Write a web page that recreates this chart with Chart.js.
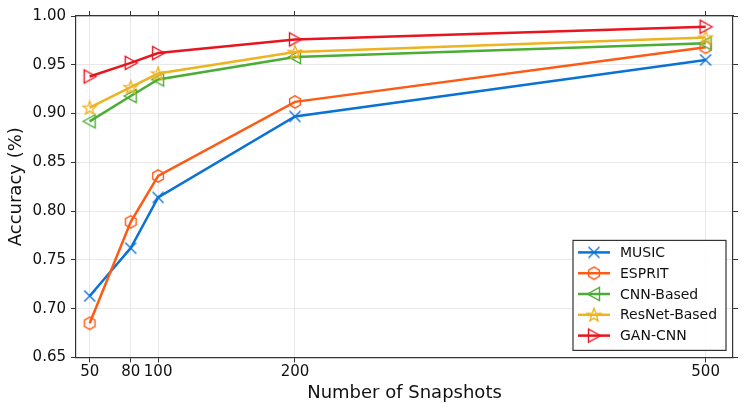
<!DOCTYPE html>
<html>
<head>
<meta charset="utf-8">
<script src="https://cdn.jsdelivr.net/npm/chart.js@4.4.1/dist/chart.umd.min.js"></script>
<style>
  body { margin: 0; background: #fff; }
</style>
</head>
<body>
<canvas id="myChart" width="748" height="413"></canvas>
<script>
// data
const snapshots = [50, 80, 100, 200, 500];
const xTicks = [50, 80, 100, 200, 500];
const yTicks = [0.65, 0.70, 0.75, 0.80, 0.85, 0.90, 0.95, 1.00];
const seriesNames = ['MUSIC', 'ESPRIT', 'CNN-Based', 'ResNet-Based', 'GAN-CNN'];
const music  = [0.713, 0.762, 0.814, 0.897, 0.955];
const esprit = [0.685, 0.789, 0.836, 0.912, 0.968];
const cnn    = [0.892, 0.918, 0.935, 0.958, 0.972];
const resnet = [0.906, 0.927, 0.941, 0.963, 0.978];
const gancnn = [0.938, 0.952, 0.962, 0.976, 0.989];

const colors  = ['#0a72d4', '#ff5a14', '#4aad34', '#eeb321', '#e8141e'];
const markers = ['cross', 'hex', 'triLeft', 'star', 'triRight'];

const FONT = "'DejaVu Sans', sans-serif";

// hollow marker drawn on a small canvas
function makeMarker(kind, color) {
  const s = 18, c = s / 2;
  const cv = document.createElement('canvas');
  cv.width = s; cv.height = s;
  const g = cv.getContext('2d');
  g.strokeStyle = color;
  g.lineWidth = 1.4;
  g.lineJoin = 'miter';
  g.beginPath();
  if (kind === 'cross') {
    const r = 5.5;
    g.moveTo(c - r, c - r); g.lineTo(c + r, c + r);
    g.moveTo(c - r, c + r); g.lineTo(c + r, c - r);
  } else if (kind === 'hex') {
    const r = 6.2;
    for (let i = 0; i < 6; i++) {
      const a = -Math.PI / 2 + i * Math.PI / 3;
      const px = c + r * Math.cos(a), py = c + r * Math.sin(a);
      if (i === 0) g.moveTo(px, py); else g.lineTo(px, py);
    }
    g.closePath();
  } else if (kind === 'triLeft') {
    g.moveTo(c - 6.5, c); g.lineTo(c + 5.5, c - 6.5); g.lineTo(c + 5.5, c + 6.5);
    g.closePath();
  } else if (kind === 'triRight') {
    g.moveTo(c + 6.5, c); g.lineTo(c - 5.5, c - 6.5); g.lineTo(c - 5.5, c + 6.5);
    g.closePath();
  } else if (kind === 'star') {
    const ro = 7, ri = 2.9;
    for (let i = 0; i < 10; i++) {
      const r = i % 2 ? ri : ro;
      const a = -Math.PI / 2 + i * Math.PI / 5;
      const px = c + r * Math.cos(a), py = c + 0.5 + r * Math.sin(a);
      if (i === 0) g.moveTo(px, py); else g.lineTo(px, py);
    }
    g.closePath();
  }
  g.stroke();
  return cv;
}

const allSeries = [music, esprit, cnn, resnet, gancnn];
const markerImgs = markers.map((m, i) => makeMarker(m, colors[i]));

const datasets = allSeries.map((vals, i) => ({
  label: seriesNames[i],
  data: snapshots.map((x, j) => ({ x: x, y: vals[j] })),
  borderColor: colors[i],
  borderWidth: 2.5,
  pointStyle: markerImgs[i],
  pointRadius: 7,
  order: allSeries.length - i,
  tension: 0
}));

// legend box inside the plot, lower right
const boxLegend = {
  id: 'boxLegend',
  afterDraw(chart) {
    const ctx = chart.ctx, a = chart.chartArea;
    const w = 153, h = 110;
    const x0 = a.right - 7 - w, y0 = a.bottom - 7 - h;
    ctx.save();
    ctx.fillStyle = 'rgba(255,255,255,0.9)';
    ctx.fillRect(x0, y0, w, h);
    ctx.strokeStyle = '#333';
    ctx.lineWidth = 1.2;
    ctx.strokeRect(x0, y0, w, h);
    ctx.font = '14px ' + FONT;
    ctx.textBaseline = 'middle';
    seriesNames.forEach((name, i) => {
      const y = y0 + 12 + i * 20.8;
      ctx.strokeStyle = colors[i];
      ctx.lineWidth = 2.5;
      ctx.beginPath();
      ctx.moveTo(x0 + 5, y); ctx.lineTo(x0 + 37, y);
      ctx.stroke();
      const img = markerImgs[i];
      ctx.drawImage(img, x0 + 21 - img.width / 2, y - img.height / 2);
      ctx.fillStyle = '#111';
      ctx.fillText(name, x0 + 47, y + 1);
    });
    ctx.restore();
  }
};

const setTicks = vals => scale => { scale.ticks = vals.map(v => ({ value: v })); };

const gridCol = '#e8e8e8';
const edge = { display: true, color: '#333', width: 1.2 };

new Chart(document.getElementById('myChart'), {
  type: 'line',
  data: { datasets: datasets },
  options: {
    responsive: false,
    animation: false,
    layout: { padding: { left: 2, right: 10, top: 11, bottom: 4 } },
    plugins: { legend: { display: false }, tooltip: { enabled: false } },
    scales: {
      x: {
        type: 'linear', position: 'bottom', min: 40, max: 520,
        afterBuildTicks: setTicks(xTicks),
        grid: { color: gridCol, tickColor: '#333', tickLength: 5, lineWidth: 1 },
        border: edge,
        ticks: { font: { family: FONT, size: 15 }, color: '#111', padding: 1, maxRotation: 0, autoSkip: false },
        title: { display: true, text: 'Number of Snapshots', font: { family: FONT, size: 18 }, color: '#111', padding: { top: 0, bottom: 5 } }
      },
      x2: {
        type: 'linear', position: 'top', min: 40, max: 520,
        afterBuildTicks: setTicks(xTicks),
        grid: { drawOnChartArea: false, tickColor: '#333', tickLength: 5 },
        border: edge,
        ticks: { display: false }
      },
      y: {
        type: 'linear', position: 'left', min: 0.65, max: 1.0,
        afterBuildTicks: setTicks(yTicks),
        grid: { color: gridCol, tickColor: '#333', tickLength: 5, lineWidth: 1 },
        border: edge,
        ticks: { font: { family: FONT, size: 15 }, color: '#111', padding: 5, callback: v => v.toFixed(2) },
        title: { display: true, text: 'Accuracy (%)', font: { family: FONT, size: 18 }, color: '#111', padding: { top: 4, bottom: 0 } }
      },
      y2: {
        type: 'linear', position: 'right', min: 0.65, max: 1.0,
        afterBuildTicks: setTicks(yTicks),
        grid: { drawOnChartArea: false, tickColor: '#333', tickLength: 5 },
        border: edge,
        ticks: { display: false }
      }
    }
  },
  plugins: [boxLegend]
});
</script>
</body>
</html>
